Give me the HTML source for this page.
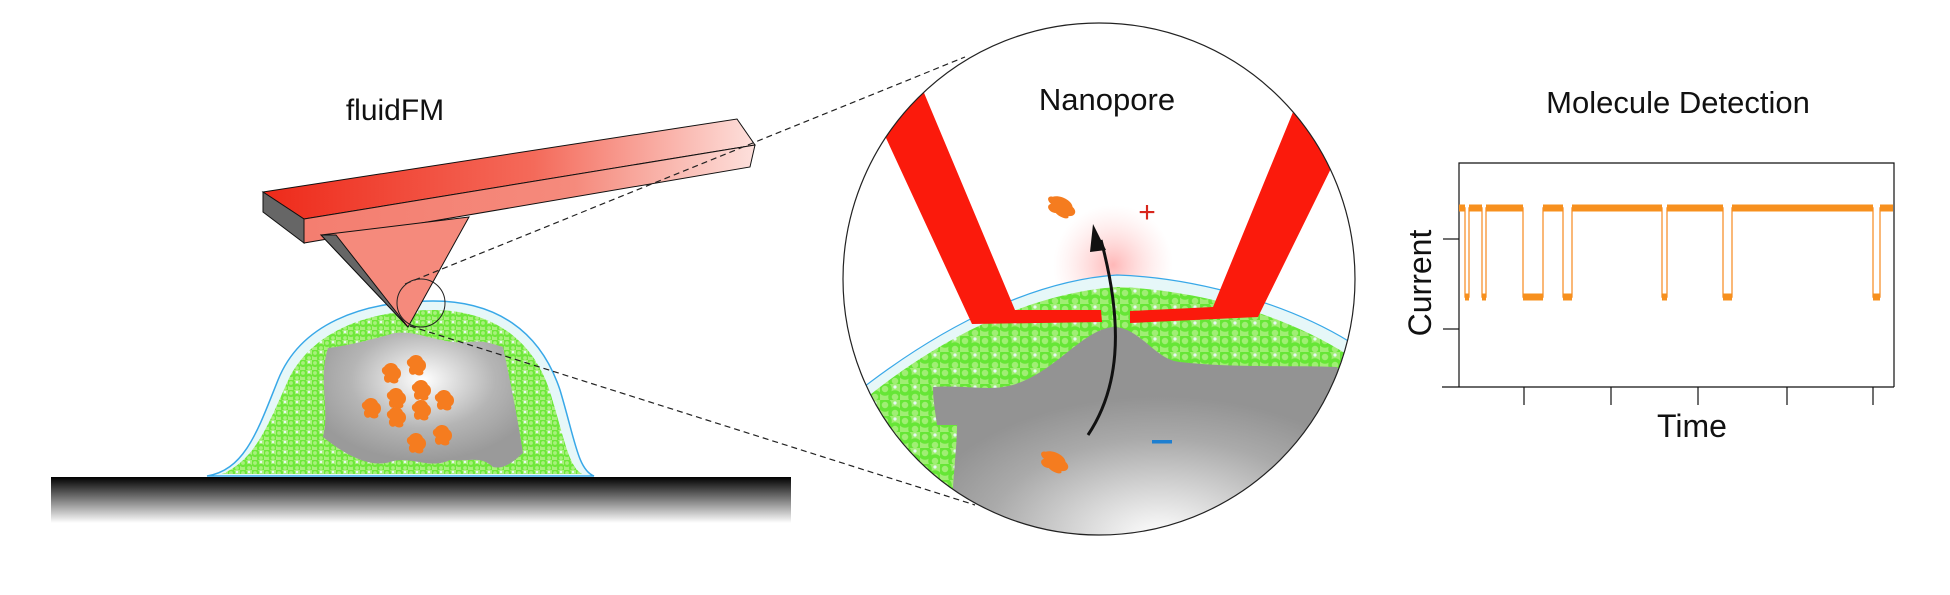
<!DOCTYPE html>
<html><head><meta charset="utf-8"><style>
html,body{margin:0;padding:0;background:#fff;}
svg{display:block;}
text{font-family:"Liberation Sans",sans-serif;fill:#111;}
</style></head><body>
<svg width="1950" height="595" viewBox="0 0 1950 595" xmlns="http://www.w3.org/2000/svg">
<defs>
<pattern id="grn" width="12" height="10" patternUnits="userSpaceOnUse">
<rect width="12" height="10" fill="#a8f07c"/>
<circle cx="3" cy="3" r="3" fill="none" stroke="#6ee83a" stroke-width="2.2"/>
<circle cx="9" cy="8" r="3" fill="none" stroke="#6ee83a" stroke-width="2.2"/>
<circle cx="9" cy="2" r="1.2" fill="#e8f8f4"/>
</pattern>
<pattern id="grn2" width="20" height="16" patternUnits="userSpaceOnUse">
<rect width="20" height="16" fill="#a0ee74"/>
<circle cx="5" cy="5" r="5" fill="none" stroke="#66e636" stroke-width="3.5"/>
<circle cx="15" cy="13" r="5" fill="none" stroke="#66e636" stroke-width="3.5"/>
<circle cx="15" cy="3" r="1.6" fill="#e8f8f4"/>
</pattern>
<linearGradient id="gnd" x1="0" y1="0" x2="0" y2="1">
<stop offset="0" stop-color="#000"/><stop offset="1" stop-color="#fff"/>
</linearGradient>
<linearGradient id="cant" x1="0" y1="0" x2="1" y2="0">
<stop offset="0" stop-color="#ee2a1a"/><stop offset="0.55" stop-color="#f46a5a"/><stop offset="1" stop-color="#fde0dc"/>
</linearGradient>
<linearGradient id="cant2" x1="0" y1="0" x2="1" y2="0">
<stop offset="0" stop-color="#f47e70"/><stop offset="0.6" stop-color="#f58a7c"/><stop offset="1" stop-color="#fde0dc"/>
</linearGradient>
<radialGradient id="nuc" cx="0.5" cy="0.35" r="0.6">
<stop offset="0" stop-color="#fff"/><stop offset="0.6" stop-color="#b5b5b5"/><stop offset="1" stop-color="#9a9a9a"/>
</radialGradient>
<radialGradient id="nuc2" cx="0.55" cy="0.9" r="0.6">
<stop offset="0" stop-color="#fff"/><stop offset="0.7" stop-color="#aaa"/><stop offset="1" stop-color="#939393"/>
</radialGradient>
<radialGradient id="glow" cx="0.5" cy="0.5" r="0.5">
<stop offset="0" stop-color="#f99" stop-opacity="0.7"/><stop offset="1" stop-color="#fcc" stop-opacity="0"/>
</radialGradient>
<clipPath id="circ"><circle cx="1099" cy="279" r="256"/></clipPath>
<g id="blob"><path d="M-8,-6 C-4,-12 4,-11 6,-5 C10,-3 10,4 6,6 C8,10 2,12 -2,9 C-6,12 -10,6 -7,2 C-11,0 -11,-5 -8,-6Z" fill="#f57c1f"/></g>
</defs>

<rect x="51" y="477" width="740" height="46" fill="url(#gnd)"/>

<path d="M207,476 C245,470 258,430 278,380 C300,325 360,301 433,301 C495,301 540,330 560,390 C575,440 578,470 594,476 Z" fill="#e6f7f8" stroke="#38a8e8" stroke-width="1.5"/>
<path d="M222,474 C255,460 268,425 286,385 C308,333 365,310 433,310 C490,310 533,338 550,392 C565,440 568,465 582,474 Z" fill="url(#grn)"/>
<path d="M328,348 C350,345 370,340 395,333 C420,330 440,345 470,342 C485,340 495,345 503,347 C510,380 518,420 523,453 C515,460 505,470 493,467 C480,455 470,462 450,460 C430,470 410,455 390,462 C370,468 345,455 323,437 C330,410 318,380 328,348Z" fill="url(#nuc)"/>
<use href="#blob" x="392" y="373"/><use href="#blob" x="417" y="365"/><use href="#blob" x="397" y="398"/>
<use href="#blob" x="422" y="390"/><use href="#blob" x="445" y="400"/><use href="#blob" x="372" y="408"/>
<use href="#blob" x="397" y="417"/><use href="#blob" x="422" y="410"/><use href="#blob" x="417" y="443"/>
<use href="#blob" x="443" y="435"/>

<polygon points="263,192 737,119 755,145 304,219" fill="url(#cant)" stroke="#111" stroke-width="1"/>
<polygon points="304,219 755,145 750,167 304,243" fill="url(#cant2)" stroke="#111" stroke-width="1"/>
<polygon points="263,192 304,219 304,243 263,212" fill="#666" stroke="#111" stroke-width="1"/>
<polygon points="321,235 469,217 408,327" fill="#f58a7c" stroke="#111" stroke-width="1"/>
<polygon points="321,235 336,235 408,327" fill="#666" stroke="#111" stroke-width="1"/>
<circle cx="421" cy="303" r="24" fill="none" stroke="#222" stroke-width="1"/>

<text x="395" y="120" font-size="30" text-anchor="middle">fluidFM</text>

<line x1="405" y1="284" x2="965" y2="57" stroke="#222" stroke-width="1.2" stroke-dasharray="6,4"/>
<line x1="410" y1="326" x2="975" y2="505" stroke="#222" stroke-width="1.2" stroke-dasharray="6,4"/>

<circle cx="1099" cy="279" r="256" fill="#fff"/>
<g clip-path="url(#circ)">
<circle cx="1113" cy="265" r="60" fill="url(#glow)"/>
<path d="M860,390 C950,320 1040,280 1117,275 C1200,278 1290,305 1350,342 L1360,540 L850,540Z" fill="#e6f7f8"/>
<path d="M866,398 C950,330 1040,292 1117,287 C1200,290 1285,315 1348,355 L1360,540 L850,540Z" fill="url(#grn2)"/>
<path d="M860,390 C950,320 1040,280 1117,275 C1200,278 1290,305 1350,342" fill="none" stroke="#38a8e8" stroke-width="1.2"/>
<path d="M933,387 C960,385 985,390 1003,387 C1050,380 1080,330 1113,327 C1140,327 1155,360 1180,362 C1230,368 1290,365 1337,367 C1345,380 1345,400 1345,420 L1345,560 L953,560 L953,487 C955,460 957,440 957,425 L937,425 C935,410 933,400 933,387Z" fill="url(#nuc2)"/>
<polygon points="880,125 922,88 1015,310 1101,310 1102,322 972,324" fill="#fb1a0c"/>
<polygon points="1130,311 1213,307 1300,95 1345,140 1258,317 1130,323" fill="#fb1a0c"/>
</g>
<circle cx="1099" cy="279" r="256" fill="none" stroke="#222" stroke-width="1.2"/>
<text x="1107" y="110" font-size="31" text-anchor="middle">Nanopore</text>
<path d="M1088,435 C1118,390 1125,330 1101,240" fill="none" stroke="#111" stroke-width="3"/>
<polygon points="1093,224 1106,250 1090,252" fill="#111"/>
<g transform="translate(1062,207) rotate(25) scale(1.6,0.9)"><use href="#blob"/></g>
<g transform="translate(1055,462) rotate(25) scale(1.6,0.9)"><use href="#blob"/></g>
<text x="1147" y="222" font-size="30" text-anchor="middle" style="fill:#d8261c">+</text>
<rect x="1152" y="440" width="20" height="3.5" fill="#1e7fd0"/>

<text x="1678" y="113" font-size="31" text-anchor="middle">Molecule Detection</text>
<path d="M1459,387 L1459,163 L1894,163 L1894,387" fill="none" stroke="#111" stroke-width="1.2"/>
<line x1="1442" y1="387" x2="1894" y2="387" stroke="#111" stroke-width="1.2"/>
<line x1="1443" y1="239" x2="1459" y2="239" stroke="#111" stroke-width="1.2"/>
<line x1="1443" y1="329" x2="1459" y2="329" stroke="#111" stroke-width="1.2"/>
<g stroke="#111" stroke-width="1.2">
<line x1="1524" y1="387" x2="1524" y2="405"/><line x1="1611" y1="387" x2="1611" y2="405"/>
<line x1="1698" y1="387" x2="1698" y2="405"/><line x1="1787" y1="387" x2="1787" y2="405"/>
<line x1="1873" y1="387" x2="1873" y2="405"/>
</g>
<text x="0" y="0" font-size="32" text-anchor="middle" transform="translate(1431,283) rotate(-90)">Current</text>
<text x="1692" y="437" font-size="32" text-anchor="middle">Time</text>
<path d="M1459,208 L1465,208 L1465,297 L1469,297 L1469,208 L1482,208 L1482,297 L1486,297 L1486,208 L1523,208 L1523,297 L1543,297 L1543,208 L1563,208 L1563,297 L1572,297 L1572,208 L1662,208 L1662,297 L1667,297 L1667,208 L1723,208 L1723,297 L1732,297 L1732,208 L1873,208 L1873,297 L1880,297 L1880,208 L1893,208" fill="none" stroke="#f9a04a" stroke-width="1.5"/>
<g stroke="#f7901e" stroke-width="7">
<line x1="1459" y1="208" x2="1465" y2="208"/><line x1="1469" y1="208" x2="1482" y2="208"/>
<line x1="1486" y1="208" x2="1523" y2="208"/><line x1="1543" y1="208" x2="1563" y2="208"/>
<line x1="1572" y1="208" x2="1662" y2="208"/><line x1="1667" y1="208" x2="1723" y2="208"/>
<line x1="1732" y1="208" x2="1873" y2="208"/><line x1="1880" y1="208" x2="1893" y2="208"/>
<line x1="1465" y1="297" x2="1469" y2="297"/><line x1="1482" y1="297" x2="1486" y2="297"/>
<line x1="1523" y1="297" x2="1543" y2="297"/><line x1="1563" y1="297" x2="1572" y2="297"/>
<line x1="1662" y1="297" x2="1667" y2="297"/><line x1="1723" y1="297" x2="1732" y2="297"/>
<line x1="1873" y1="297" x2="1880" y2="297"/>
</g>
</svg>
</body></html>
